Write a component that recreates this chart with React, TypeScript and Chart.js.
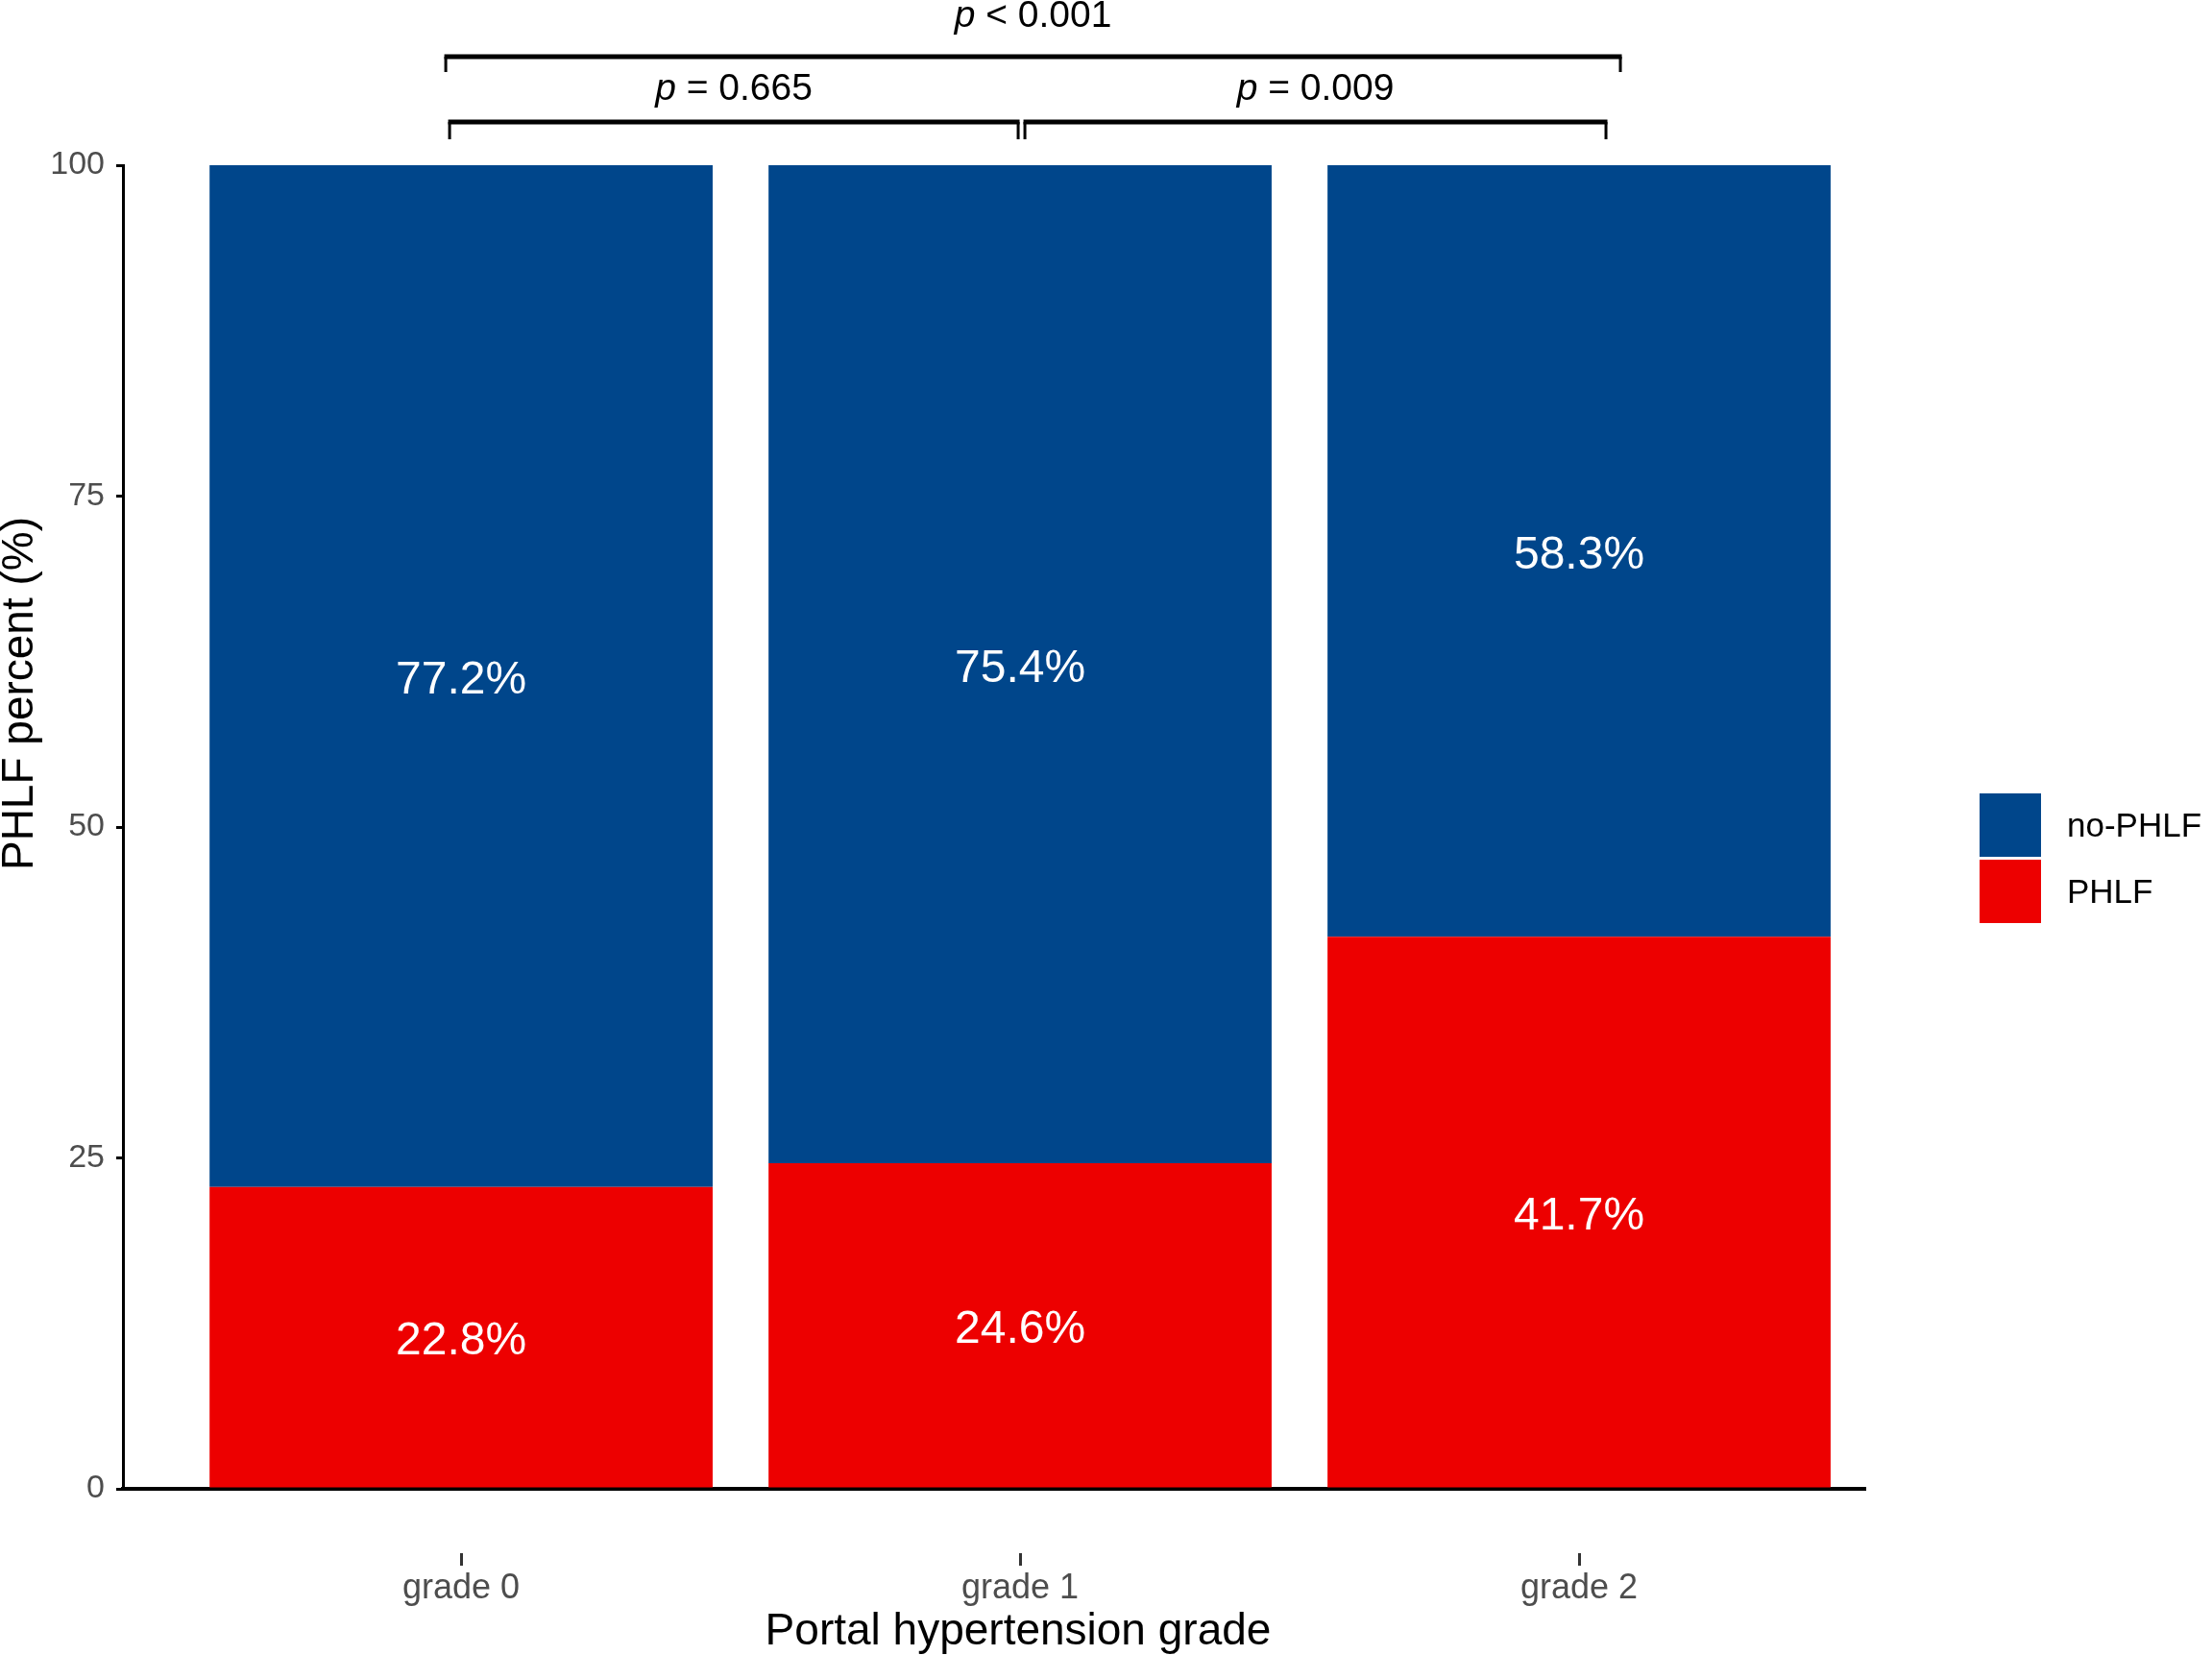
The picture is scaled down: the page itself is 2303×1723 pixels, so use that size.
import React, { useEffect, useRef } from "react";
import { Chart, registerables } from "chart.js";

Chart.register(...registerables);

// ---------------- data ----------------
const categories = ["grade 0", "grade 1", "grade 2"];
const seriesNames = ["PHLF", "no-PHLF"];
const phlfPercent = [22.8, 24.6, 41.7];
const noPhlfPercent = [77.2, 75.4, 58.3];
const yTickValues = [0, 25, 50, 75, 100];
// pairwise comparisons: [group a, group b], p-value text
const comparisonPairs = [
  [0, 1],
  [1, 2],
  [0, 2],
];
const comparisonOps = ["=", "=", "<"];
const comparisonP = ["0.665", "0.009", "0.001"];
const xTitle = "Portal hypertension grade";
const yTitle = "PHLF percent (%)";

// ---------------- style ----------------
const W = 2303;
const H = 1723;
const FONT = '"Liberation Sans", Arial, Helvetica, sans-serif';
const RED = "#ED0000";
const BLUE = "#00468B";

const overlayPlugin = {
  id: "overlay",
  afterDraw(chart: any) {
    const { ctx, chartArea, scales } = chart;
    const x = scales.x;
    const y = scales.y;
    ctx.save();

    // detached x tick marks
    ctx.strokeStyle = "#333333";
    ctx.lineWidth = 3;
    x.ticks.forEach((t: any) => {
      const px = Math.round(x.getPixelForValue(t.value)) + 0.5;
      ctx.beginPath();
      ctx.moveTo(px, chartArea.bottom + 67);
      ctx.lineTo(px, chartArea.bottom + 80);
      ctx.stroke();
    });

    // bar labels
    ctx.fillStyle = "#FFFFFF";
    ctx.font = `48px ${FONT}`;
    ctx.textAlign = "center";
    ctx.textBaseline = "middle";
    chart.data.datasets.forEach((ds: any, di: number) => {
      const meta = chart.getDatasetMeta(di);
      meta.data.forEach((el: any, i: number) => {
        const p = el.getProps(["x", "y", "base"], true);
        const v = ds.data[i].y;
        ctx.fillText(v.toFixed(1) + "%", p.x, (p.y + p.base) / 2 + 5);
      });
    });

    // significance brackets
    const nudges = [
      [-12, -2],
      [5, 28],
      [-16, 43],
    ];
    ctx.strokeStyle = "#000000";
    ctx.lineCap = "butt";
    ctx.lineJoin = "miter";
    comparisonPairs.forEach((pair, k) => {
      const row = pair[1] - pair[0] > 1 ? 1 : 0;
      const lineY = y.getPixelForValue(100) - 45 - row * 68;
      const tickLen = row ? 16 : 18;
      const x1 = x.getPixelForValue(pair[0]) + nudges[k][0];
      const x2 = x.getPixelForValue(pair[1]) + nudges[k][1];
      ctx.lineWidth = 3;
      ctx.beginPath();
      ctx.moveTo(x1, lineY + tickLen);
      ctx.lineTo(x1, lineY);
      ctx.moveTo(x2, lineY);
      ctx.lineTo(x2, lineY + tickLen);
      ctx.stroke();
      ctx.lineWidth = 5;
      ctx.beginPath();
      ctx.moveTo(x1 - 1.5, lineY);
      ctx.lineTo(x2 + 1.5, lineY);
      ctx.stroke();

      // p-value text
      const base = lineY - (row ? 31 : 23);
      const italic = `italic 39px ${FONT}`;
      const normal = `39px ${FONT}`;
      const rest = ` ${comparisonOps[k]} ${comparisonP[k]}`;
      ctx.font = italic;
      const wp = ctx.measureText("p").width;
      ctx.font = normal;
      const wr = ctx.measureText(rest).width;
      const cx = (x1 + x2) / 2;
      const sx = cx - (wp + wr) / 2;
      ctx.fillStyle = "#000000";
      ctx.textAlign = "left";
      ctx.textBaseline = "alphabetic";
      ctx.font = italic;
      ctx.fillText("p", sx, base);
      ctx.font = normal;
      ctx.fillText(rest, sx + wp, base);
    });

    // axis titles
    ctx.fillStyle = "#000000";
    ctx.font = `46px ${FONT}`;
    ctx.textAlign = "center";
    ctx.textBaseline = "alphabetic";
    ctx.fillText(xTitle, 1060, chartArea.bottom + 162);
    ctx.save();
    ctx.translate(34, 722);
    ctx.rotate(-Math.PI / 2);
    ctx.fillText(yTitle, 0, 0);
    ctx.restore();

    // legend (reverse order: top series first)
    const legendX = chartArea.right + 119;
    const legendTop = 826;
    const keyW = 64;
    const keyH = 66;
    const keyGap = 3;
    const items = chart.data.datasets.slice().reverse();
    items.forEach((ds: any, i: number) => {
      const ky = legendTop + i * (keyH + keyGap);
      ctx.fillStyle = ds.backgroundColor;
      ctx.fillRect(legendX, ky, keyW, keyH);
      ctx.fillStyle = "#000000";
      ctx.font = `35px ${FONT}`;
      ctx.textAlign = "left";
      ctx.textBaseline = "middle";
      ctx.fillText(ds.label, legendX + keyW + 27, ky + keyH / 2 + 2);
    });

    ctx.restore();
  },
};

export default function App() {
  const canvasRef = useRef<HTMLCanvasElement | null>(null);

  useEffect(() => {
    document.body.style.margin = "0";
    const canvas = canvasRef.current;
    if (!canvas) return;
    Chart.defaults.font.family = FONT;

    const chart = new Chart(canvas, {
      type: "bar",
      data: {
        datasets: [
          {
            label: seriesNames[0],
            data: phlfPercent.map((v, i) => ({ x: i, y: v })),
            backgroundColor: RED,
            barPercentage: 0.9,
            categoryPercentage: 1.0,
          },
          {
            label: seriesNames[1],
            data: noPhlfPercent.map((v, i) => ({ x: i, y: v })),
            backgroundColor: BLUE,
            barPercentage: 0.9,
            categoryPercentage: 1.0,
          },
        ],
      } as any,
      options: {
        animation: false,
        responsive: false,
        layout: { padding: { top: 172, right: W - 1942, left: 0, bottom: 0 } },
        plugins: {
          legend: { display: false },
          tooltip: { enabled: false },
          title: { display: false },
        },
        scales: {
          x: {
            type: "linear",
            offset: false,
            stacked: true,
            min: -0.605,
            max: 2.512,
            afterBuildTicks: (s: any) => {
              s.ticks = categories.map((_, i) => ({ value: i }));
            },
            afterFit: (s: any) => {
              s.height = H - 1550;
            },
            grid: { display: false, drawTicks: false, offset: false },
            border: { display: true, color: "#000000", width: 4 },
            ticks: {
              autoSkip: false,
              maxRotation: 0,
              padding: 82,
              color: "#4D4D4D",
              font: { size: 36, family: FONT },
              callback: (v: any) => categories[Math.round(Number(v))] ?? "",
            },
          },
          y: {
            stacked: true,
            min: 0,
            max: 100,
            afterBuildTicks: (s: any) => {
              s.ticks = yTickValues.map((v) => ({ value: v }));
            },
            afterFit: (s: any) => {
              s.width = 128;
            },
            grid: {
              drawOnChartArea: false,
              drawTicks: true,
              tickLength: 7,
              color: "#000000",
              lineWidth: 3,
              tickWidth: 3,
            },
            border: { display: true, color: "#000000", width: 3 },
            ticks: {
              padding: 12,
              color: "#4D4D4D",
              font: { size: 34, family: FONT },
              callback: (v: any) => String(v),
            },
          },
        },
      } as any,
      plugins: [overlayPlugin],
    });

    return () => {
      chart.destroy();
    };
  }, []);

  return (
    <div style={{ width: W, height: H, overflow: "hidden", background: "#FFFFFF" }}>
      <canvas ref={canvasRef} width={W} height={H} style={{ display: "block", width: W, height: H }} />
    </div>
  );
}
